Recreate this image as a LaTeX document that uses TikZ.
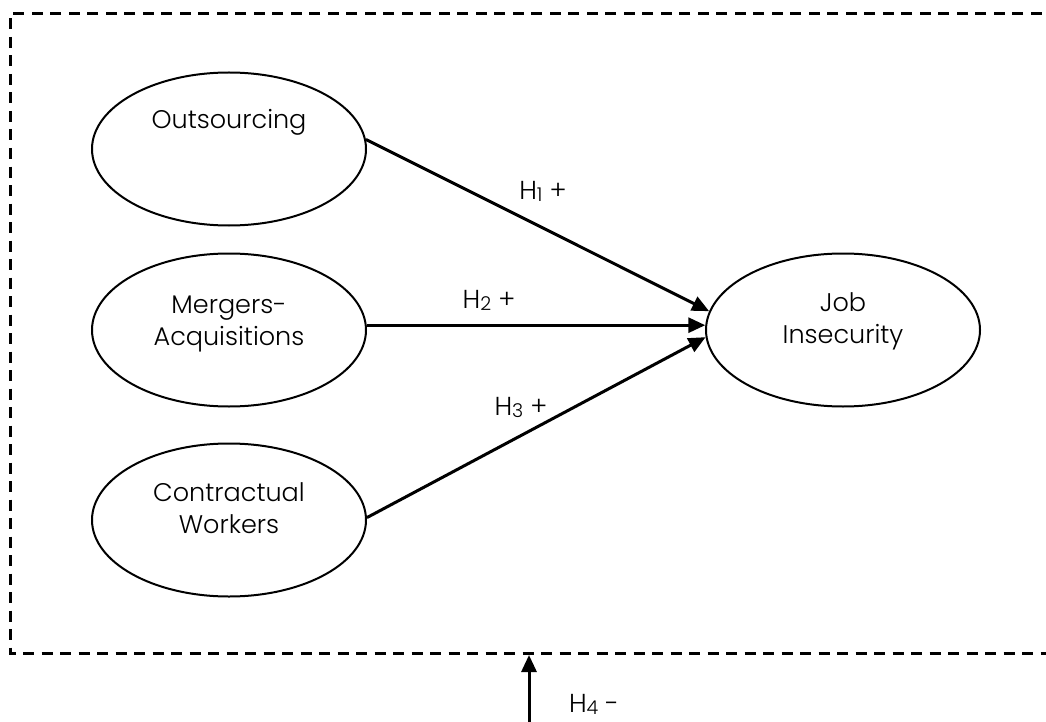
\documentclass[tikz,border=0pt]{standalone}
\usepackage{fontspec}
\setmainfont{Poppins}[UprightFont=* Light]
\usetikzlibrary{shapes.geometric,arrows.meta}
\newcommand{\hsub}[1]{\raisebox{-2pt}{\fontsize{19}{19}\selectfont #1}}
\tikzset{
  construct/.style={draw, line width=2pt, ellipse, minimum width=274pt, minimum height=153pt, inner sep=0pt},
  ctext/.style={align=center, font=\fontsize{25.5}{32}\selectfont, inner sep=0pt},
  lbl/.style={font=\fontsize{26}{28}\selectfont, inner sep=0pt},
  path/.style={line width=3pt, -{Triangle[length=17pt,width=15pt]}},
  frame/.style={line width=3pt, dash pattern=on 11pt off 7.5pt}
}
\begin{document}
\begin{tikzpicture}[x=1pt,y=-1pt]
\clip (0,0) rectangle (1046,722);
\fill[white] (0,0) rectangle (1046,722);
\draw[frame] (1060,14) -- (10,14) -- (10,653) -- (1060,653);

\node[construct] (o) at (229,149) {};
\node[construct] (m) at (229,330) {};
\node[construct] (c) at (229,520) {};
\node[construct] (j) at (843,330) {};

\node[ctext] (ot) at (229,122) {Outsourcing};
\node[ctext] (mt) at (229,324) {Mergers-\\Acquisitions};
\node[ctext] (ct) at (229,508) {Contractual\\Workers};
\node[ctext] (jt) at (843,321) {Job\\Insecurity};

\draw[path] (o.4) -- (j.172);
\draw[path] (m.2) -- (j.178);
\draw[path] (c.1) -- (j.183);

\coordinate (b0) at (529,730);
\coordinate (b1) at (529,655);
\draw[path] (b0) -- (b1);

\node[lbl] (h1) at (543,191) {H\hsub{1} +};
\node[lbl] (h2) at (489,300) {H\hsub{2} +};
\node[lbl] (h3) at (521,407) {H\hsub{3} +};
\node[lbl] (h4) at (594,704) {H\hsub{4} -};
\end{tikzpicture}
\end{document}
